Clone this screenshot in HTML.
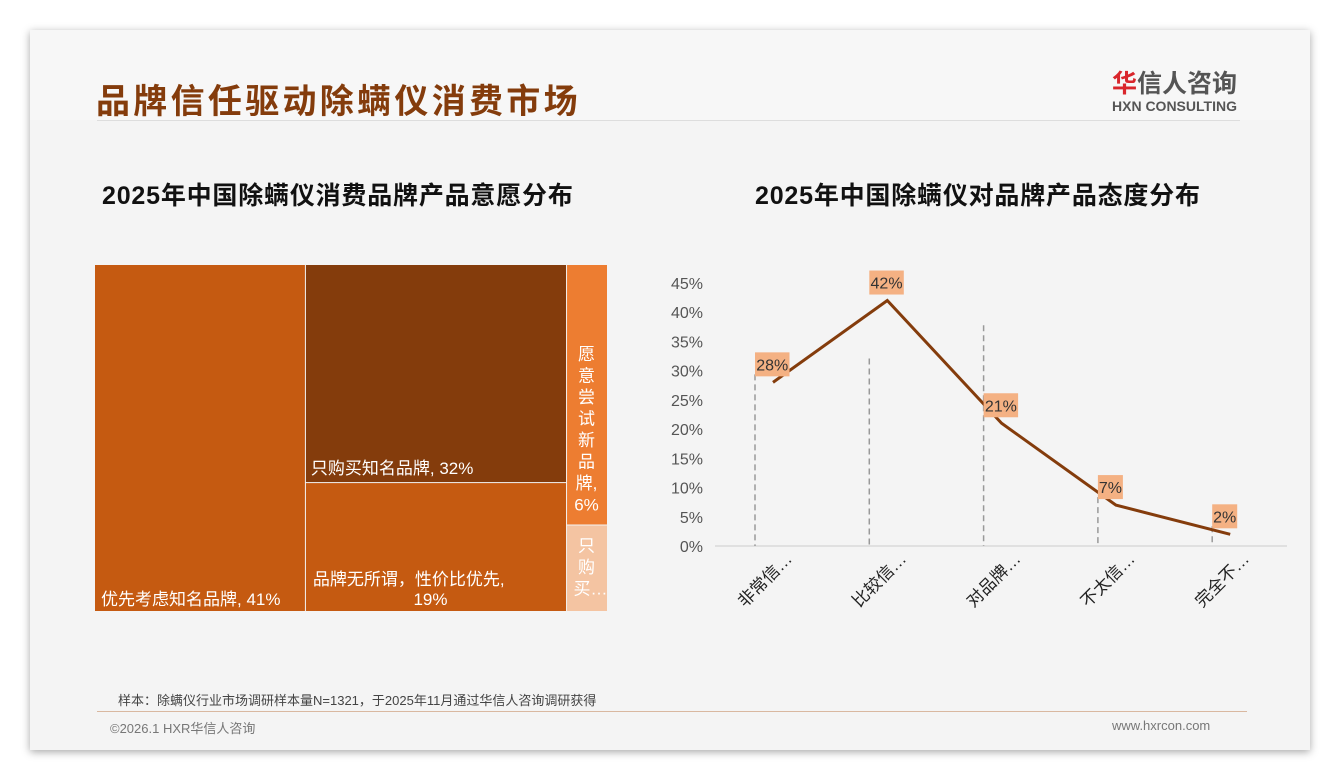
<!DOCTYPE html>
<html><head><meta charset="utf-8">
<style>
body{margin:0;width:1340px;height:780px;background:#fff;font-family:"Liberation Sans","Noto Sans CJK SC",sans-serif;position:relative;overflow:hidden}
#card{position:absolute;left:30px;top:30px;width:1280px;height:720px;background:#f4f4f4;box-shadow:0 2px 8px rgba(0,0,0,.35)}
.abs{position:absolute}
</style></head><body>
<div id="card">
<div class="abs" style="left:0;top:0;width:1280px;height:90px;background:#f7f7f7"></div>
<div class="abs" style="left:66px;top:44px;font-size:34px;font-weight:bold;color:#843C0C;letter-spacing:3.3px">品牌信任驱动除螨仪消费市场</div>
<div class="abs" style="left:1082px;top:34px;width:140px">
 <div style="font-size:25px;color:#555;font-weight:bold"><span style="color:#d9262c">华</span>信人咨询</div>
 <div style="font-size:14px;color:#555;font-weight:bold;margin-top:-2px">HXN CONSULTING</div>
</div>
<div class="abs" style="left:67px;top:90px;width:1143px;height:1px;background:#ddd"></div>
<div class="abs" style="left:72px;top:146px;font-size:25px;font-weight:bold;color:#111;letter-spacing:0.8px">2025年中国除螨仪消费品牌产品意愿分布</div>
<div class="abs" style="left:725px;top:146px;font-size:25px;font-weight:bold;color:#111;letter-spacing:0.8px">2025年中国除螨仪对品牌产品态度分布</div>
<div class="abs" style="left:88px;top:660px;font-size:13px;color:#444">样本：除螨仪行业市场调研样本量N=1321，于2025年11月通过华信人咨询调研获得</div>
<div class="abs" style="left:67px;top:681px;width:1150px;height:1px;background:#d9b8a0"></div>
<div class="abs" style="left:80px;top:688px;font-size:13px;color:#777">©2026.1 HXR华信人咨询</div>
<div class="abs" style="left:1082px;top:688px;font-size:13px;color:#777">www.hxrcon.com</div>
</div>
<svg id="tm" class="abs" style="left:0;top:0" width="1340" height="780"></svg>
<svg id="lc" class="abs" style="left:0;top:0" width="1340" height="780"></svg>
<script>
const tmLabels=["优先考虑知名品牌","只购买知名品牌","品牌无所谓，性价比优先","愿意尝试新品牌","只购买新品牌"];
const tmValues=[41,32,19,6,2];
const lcCats=["非常信…","比较信…","对品牌…","不太信…","完全不…"];
const lcValues=[28,42,21,7,2];
const lcTicks=[0,5,10,15,20,25,30,35,40,45];
const NS="http://www.w3.org/2000/svg";
function mk(p,t,a){const e=document.createElementNS(NS,t);for(const k in a)e.setAttribute(k,a[k]);p.appendChild(e);return e;}
const tm=document.getElementById('tm');
const X0=95,Y0=265,W=512,H=346,tot=tmValues.reduce((a,b)=>a+b,0);
const colors=["#C55A11","#843C0C","#C55A11","#ED7D31","#F4C4A2"];
const w0=W*tmValues[0]/tot, w1=W*(tmValues[1]+tmValues[2])/tot, w2=W-w0-w1;
const h1=H*tmValues[1]/(tmValues[1]+tmValues[2]), h3=H*tmValues[3]/(tmValues[3]+tmValues[4]);
const rects=[[X0,Y0,w0,H],[X0+w0,Y0,w1,h1],[X0+w0,Y0+h1,w1,H-h1],[X0+w0+w1,Y0,w2,h3],[X0+w0+w1,Y0+h3,w2,H-h3]];
rects.forEach((r,i)=>{const e=mk(tm,'rect',{x:r[0]+(i?1:0),y:r[1]+(i==2||i==4?1:0),width:r[2]-(i?1:0),height:r[3]-(i==2||i==4?1:0),fill:colors[i]});

});
function tx(x,y,s,anchor,sz,fill,name){const t=mk(tm,'text',{x:x,y:y,'font-size':sz||17,fill:fill||'#fff','text-anchor':anchor||'start'});t.textContent=s;

return t;}
tx(rects[0][0]+6,rects[0][1]+H-6,tmLabels[0]+", "+tmValues[0]+"%","start",17,"#fff","label-cell-0");
tx(rects[1][0]+6,rects[1][1]+h1-8,tmLabels[1]+", "+tmValues[1]+"%","start",17,"#fff","label-cell-1");
tx(rects[2][0]+8,Y0+H-26,tmLabels[2]+",","start",17,"#fff","label-cell-2");
tx(rects[2][0]+w1/2-5,Y0+H-6,tmValues[2]+"%","middle",17,"#fff","label-cell-2-value");
const cx=rects[3][0]+w2/2;
"愿意尝试新品".split('').forEach((c,i)=>tx(cx,Y0+95+i*21.5,c,"middle",17,"#fff","label-cell-3-char"));
tx(cx,Y0+95+6*21.5,"牌,","middle",17,"#fff","label-cell-3-char");
tx(cx,Y0+95+7*21.5,tmValues[3]+"%","middle",17,"#fff","label-cell-3-value");
["只","购","买…"].forEach((c,i)=>tx(cx+(i==2?4:0),Y0+h3+27+i*21.5,c,"middle",17,"#fff","label-cell-4-char"));
const lc=document.getElementById('lc');
const yb=546,yt=283,xL=715,xR=1287,x0=773,dx=114.3;
const Y=v=>yb-(v/45)*(yb-yt), Xc=i=>x0+i*dx;
lcTicks.forEach(t=>{const e=mk(lc,'text',{x:703,y:Y(t)+6,'font-size':16,fill:'#555','text-anchor':'end'});e.textContent=t+"%";

});
const ax=mk(lc,'line',{x1:xL,y1:yb,x2:xR,y2:yb,stroke:'#ccc','stroke-width':1});


lcValues.forEach((v,i)=>{const l=mk(lc,'line',{x1:Xc(i)-18,y1:Y(v)+(i==1?58:i==2?-98:-8),x2:Xc(i)-18,y2:yb,stroke:'#999','stroke-width':1.5,'stroke-dasharray':'6,4'});

});
const pl=mk(lc,'polyline',{points:lcValues.map((v,i)=>Xc(i)+','+Y(v)).join(' '),fill:'none',stroke:'#843C0C','stroke-width':3});


lcValues.forEach((v,i)=>{const s=v+"%",w=s.length*9.5+6;
const r=mk(lc,'rect',{x:Xc(i)-18,y:Y(v)-30,width:w,height:24,fill:'#F4B183'});


const t=mk(lc,'text',{x:Xc(i)-18+w/2,y:Y(v)-12,'font-size':16,fill:'#333','text-anchor':'middle'});t.textContent=s;

});
lcCats.forEach((c,i)=>{const t=mk(lc,'text',{x:Xc(i)+20,y:560,'font-size':17,fill:'#222','text-anchor':'end',transform:`rotate(-45 ${Xc(i)+20} 560)`});t.textContent=c;

});
</script>
</body></html>
